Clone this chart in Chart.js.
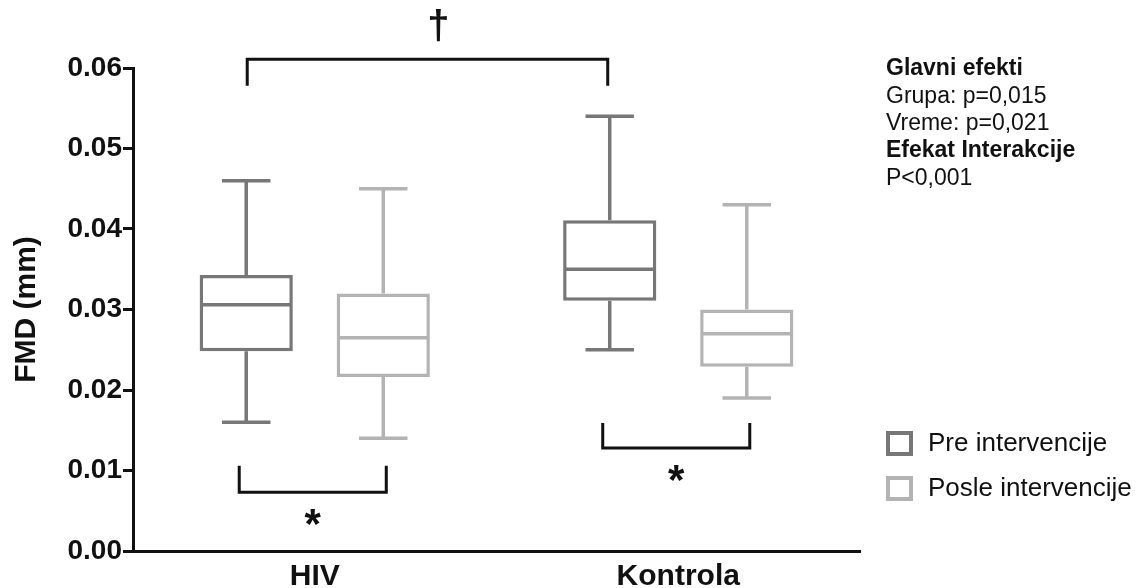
<!DOCTYPE html>
<html>
<head>
<meta charset="utf-8">
<title>FMD (mm)</title>
<script src="https://cdn.jsdelivr.net/npm/chart.js@4.4.0/dist/chart.umd.min.js"></script>
<style>
  html, body { margin: 0; padding: 0; background: #ffffff; }
  #wrap { width: 1145px; height: 588px; }
</style>
</head>
<body>
<div id="wrap"><canvas id="chart" width="1145" height="588"></canvas></div>
<script>
// Groups on the x axis
const categories = ['HIV', 'Kontrola'];

// Five-number summaries, before intervention
const preMin    = [0.016,  0.025];
const preQ1     = [0.0248, 0.0311];
const preMedian = [0.0306, 0.0350];
const preQ3     = [0.0343, 0.0411];
const preMax    = [0.046,  0.054];

// Five-number summaries, after intervention
const postMin    = [0.014,  0.019];
const postQ1     = [0.0216, 0.0229];
const postMedian = [0.0265, 0.0270];
const postQ3     = [0.0320, 0.0300];
const postMax    = [0.045,  0.043];

// Y axis range and tick step
const yMin = 0, yMax = 0.06, yStep = 0.01;

// Statistics summary shown at the top right
const statsLines = [
  { text: 'Glavni efekti', bold: true },
  { text: 'Grupa: p=0,015', bold: false },
  { text: 'Vreme: p=0,021', bold: false },
  { text: 'Efekat Interakcije', bold: true },
  { text: 'P<0,001', bold: false }
];

// Significance brackets: ends are [categoryIndex, datasetIndex]
const brackets = [
  { from: [0, 0], to: [1, 0], legEnd: 0.0578, line: 0.0611, mark: '\u2020', dir: 'up' },
  { from: [0, 0], to: [0, 1], legEnd: 0.0106, line: 0.0073, mark: '*', dir: 'down' },
  { from: [1, 0], to: [1, 1], legEnd: 0.0159, line: 0.0128, mark: '*', dir: 'down' }
];

const PRE_COLOR = '#777777';
const POST_COLOR = '#b3b3b3';
const INK = '#111111';
const FONT = '"Liberation Sans", Arial, Helvetica, sans-serif';

function boxDataset(label, color, q1, q3, min, med, max) {
  return {
    label,
    data: categories.map((_, i) => [q1[i], q3[i]]),
    whiskerMin: min,
    whiskerMax: max,
    median: med,
    backgroundColor: '#ffffff',
    borderColor: color,
    borderWidth: 3.5,
    borderSkipped: false,
    categoryPercentage: 0.754,
    barPercentage: 0.68
  };
}

// Draws medians and whiskers on top of the floating boxes
const boxPlotParts = {
  id: 'boxPlotParts',
  afterDatasetsDraw(chart) {
    const ctx = chart.ctx;
    const y = chart.scales.y;
    chart.data.datasets.forEach((ds, di) => {
      const meta = chart.getDatasetMeta(di);
      meta.data.forEach((bar, i) => {
        const half = bar.width / 2;
        const capHalf = bar.width * 0.26;
        const pMin = y.getPixelForValue(ds.whiskerMin[i]);
        const pMax = y.getPixelForValue(ds.whiskerMax[i]);
        const pQ1 = y.getPixelForValue(ds.data[i][0]);
        const pQ3 = y.getPixelForValue(ds.data[i][1]);
        const pMed = y.getPixelForValue(ds.median[i]);
        ctx.save();
        ctx.strokeStyle = ds.borderColor;
        ctx.lineWidth = 3.5;
        ctx.lineCap = 'butt';
        ctx.beginPath();
        // median
        ctx.moveTo(bar.x - half + 1, pMed);
        ctx.lineTo(bar.x + half - 1, pMed);
        // upper whisker and cap
        ctx.moveTo(bar.x, pQ3);
        ctx.lineTo(bar.x, pMax);
        ctx.moveTo(bar.x - capHalf, pMax);
        ctx.lineTo(bar.x + capHalf, pMax);
        // lower whisker and cap
        ctx.moveTo(bar.x, pQ1);
        ctx.lineTo(bar.x, pMin);
        ctx.moveTo(bar.x - capHalf, pMin);
        ctx.lineTo(bar.x + capHalf, pMin);
        ctx.stroke();
        ctx.restore();
      });
    });
  }
};

// Significance brackets, statistics text and legend
const annotations = {
  id: 'annotations',
  afterDraw(chart) {
    const ctx = chart.ctx;
    const y = chart.scales.y;
    const area = chart.chartArea;
    const barAt = (ref) => chart.getDatasetMeta(ref[1]).data[ref[0]];

    ctx.save();
    ctx.strokeStyle = INK;
    ctx.fillStyle = INK;
    ctx.lineWidth = 3;
    ctx.lineJoin = 'miter';
    brackets.forEach((b) => {
      const up = b.dir === 'up';
      const x1 = barAt(b.from).x + (up ? 1 : -7);
      const x2 = barAt(b.to).x + (up ? -2 : 3);
      const yl = y.getPixelForValue(b.line);
      const ye = y.getPixelForValue(b.legEnd);
      ctx.beginPath();
      ctx.moveTo(x1, ye);
      ctx.lineTo(x1, yl);
      ctx.lineTo(x2, yl);
      ctx.lineTo(x2, ye);
      ctx.stroke();
      const mx = (x1 + x2) / 2;
      ctx.textAlign = 'center';
      if (up) {
        ctx.font = 'bold 40px ' + FONT;
        ctx.textBaseline = 'middle';
        ctx.fillText(b.mark, mx + 11, yl - 31);
      } else {
        ctx.font = 'bold 42px ' + FONT;
        ctx.textBaseline = 'alphabetic';
        ctx.fillText(b.mark, mx, yl + 46);
      }
    });

    // statistics summary
    const sx = area.right + 26;
    ctx.textAlign = 'left';
    ctx.textBaseline = 'middle';
    statsLines.forEach((line, i) => {
      ctx.font = (line.bold ? 'bold ' : '') + '23px ' + FONT;
      ctx.fillStyle = INK;
      ctx.fillText(line.text, sx, 69 + i * 27.3);
    });

    // legend
    chart.data.datasets.forEach((ds, i) => {
      const cy = 443 + i * 45;
      ctx.strokeStyle = ds.borderColor;
      ctx.lineWidth = 4;
      ctx.strokeRect(sx + 2, cy - 10, 23, 21);
      ctx.fillStyle = INK;
      ctx.font = '26px ' + FONT;
      ctx.fillText(ds.label, sx + 42, cy + 1);
    });
    ctx.restore();
  }
};

new Chart(document.getElementById('chart'), {
  type: 'bar',
  data: {
    labels: categories,
    datasets: [
      boxDataset('Pre intervencije', PRE_COLOR, preQ1, preQ3, preMin, preMedian, preMax),
      boxDataset('Posle intervencije', POST_COLOR, postQ1, postQ3, postMin, postMedian, postMax)
    ]
  },
  options: {
    responsive: false,
    animation: false,
    devicePixelRatio: 1,
    layout: { padding: { top: 68, right: 285, bottom: 0, left: 0 } },
    plugins: {
      legend: { display: false },
      tooltip: { enabled: false }
    },
    scales: {
      x: {
        grid: { display: false, drawTicks: false },
        border: { display: true, color: INK, width: 3 },
        ticks: {
          color: INK,
          padding: 8,
          font: { family: FONT, size: 30, weight: 'bold' }
        },
        afterFit(scale) { scale.height = 37; }
      },
      y: {
        min: yMin,
        max: yMax,
        grid: { drawOnChartArea: false, drawTicks: true, tickLength: 10, tickWidth: 3, tickColor: INK },
        border: { display: true, color: INK, width: 3 },
        ticks: {
          stepSize: yStep,
          color: INK,
          padding: 1,
          font: { family: FONT, size: 28, weight: 'bold' },
          callback: (v) => Number(v).toFixed(2)
        },
        title: {
          display: true,
          text: 'FMD (mm)',
          color: INK,
          padding: { top: 9, bottom: 0 },
          font: { family: FONT, size: 30, weight: 'bold' }
        },
        afterFit(scale) { scale.width = 133; }
      }
    }
  },
  plugins: [boxPlotParts, annotations]
});
</script>
</body>
</html>
